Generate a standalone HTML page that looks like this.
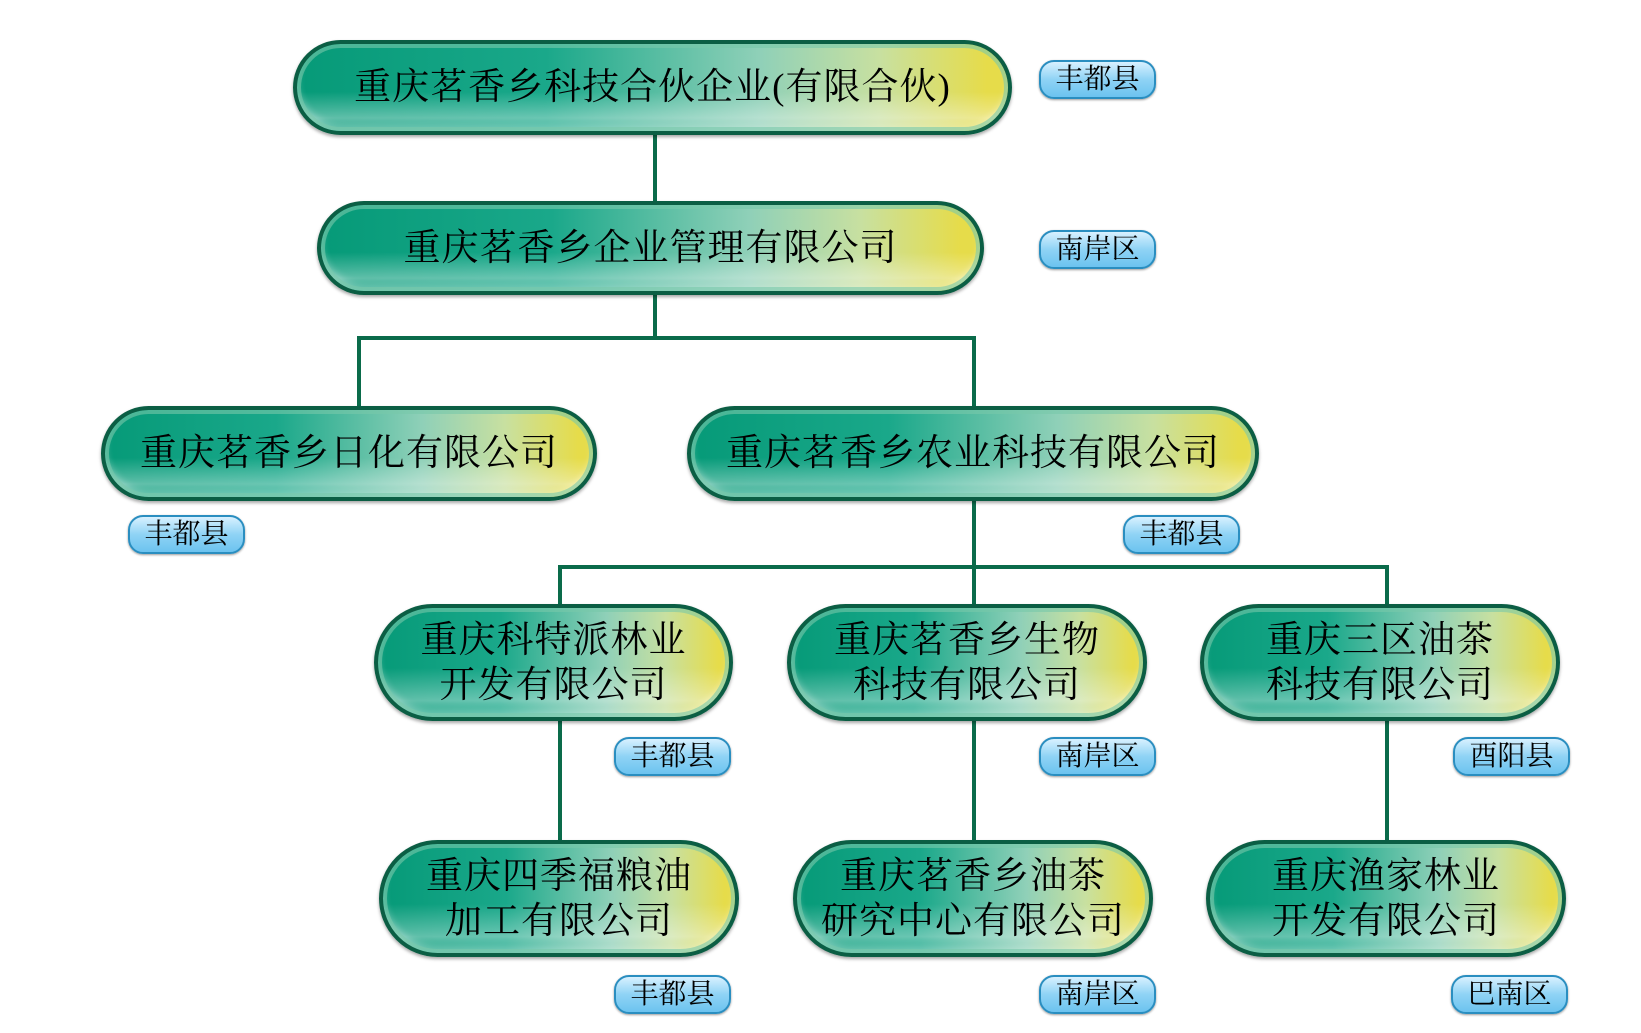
<!DOCTYPE html>
<html><head><meta charset="utf-8"><style>
body{margin:0;width:1641px;height:1033px;background:#fff;position:relative;overflow:hidden;font-family:"Liberation Serif","Noto Serif CJK SC",serif;}
.p{position:absolute;box-sizing:border-box;border-radius:999px;border:4px solid #0b5e44;
background:linear-gradient(180deg,rgba(255,255,255,0) 55%,rgba(255,255,255,.35) 85%,rgba(255,255,255,0) 100%),linear-gradient(90deg,#069a78 0%,#1aa88a 35%,#8fd0b8 65%,#c8e0a0 82%,#e6dc4a 97%);
box-shadow:inset 0 0 0 4px rgba(120,200,170,.6),inset 0 -6px 8px rgba(255,255,255,.4),0 2px 3px rgba(0,0,0,.35);
display:flex;align-items:center;justify-content:center;text-align:center;color:#000;font-size:37px;line-height:45px;letter-spacing:1px}
.t{position:absolute;box-sizing:border-box;width:117px;height:39px;border-radius:15px;border:2px solid #2a8ec0;
background:linear-gradient(180deg,#d8f1ff 0%,#8fd3f5 50%,#6cc3ef 100%);box-shadow:0 1px 2px rgba(0,0,0,.4);
font-size:28px;line-height:35px;text-align:center;color:#000}
.l{position:absolute;background:#0a6b4a}
</style></head><body>
<div class="l" style="left:653px;top:133px;width:4px;height:70px"></div>
<div class="l" style="left:653px;top:293px;width:4px;height:47px"></div>
<div class="l" style="left:357px;top:336px;width:617px;height:4px"></div>
<div class="l" style="left:357px;top:336px;width:4px;height:72px"></div>
<div class="l" style="left:972px;top:336px;width:4px;height:72px"></div>
<div class="l" style="left:972px;top:498px;width:4px;height:110px"></div>
<div class="l" style="left:558px;top:565px;width:831px;height:4px"></div>
<div class="l" style="left:558px;top:565px;width:4px;height:42px"></div>
<div class="l" style="left:1385px;top:565px;width:4px;height:42px"></div>
<div class="l" style="left:558px;top:716px;width:4px;height:126px"></div>
<div class="l" style="left:972px;top:716px;width:4px;height:126px"></div>
<div class="l" style="left:1385px;top:716px;width:4px;height:126px"></div>

<div class="p" style="left:293px;top:40px;width:719px;height:95px">重庆茗香乡科技合伙企业(有限合伙)</div>
<div class="p" style="left:317px;top:201px;width:667px;height:94px">重庆茗香乡企业管理有限公司</div>
<div class="p" style="left:101px;top:406px;width:496px;height:95px">重庆茗香乡日化有限公司</div>
<div class="p" style="left:687px;top:406px;width:572px;height:95px">重庆茗香乡农业科技有限公司</div>
<div class="p" style="left:374px;top:604px;width:359px;height:117px">重庆科特派林业<br>开发有限公司</div>
<div class="p" style="left:787px;top:604px;width:360px;height:117px">重庆茗香乡生物<br>科技有限公司</div>
<div class="p" style="left:1200px;top:604px;width:360px;height:117px">重庆三区油茶<br>科技有限公司</div>
<div class="p" style="left:379px;top:840px;width:360px;height:117px">重庆四季福粮油<br>加工有限公司</div>
<div class="p" style="left:793px;top:840px;width:360px;height:117px">重庆茗香乡油茶<br>研究中心有限公司</div>
<div class="p" style="left:1206px;top:840px;width:360px;height:117px">重庆渔家林业<br>开发有限公司</div>

<div class="t" style="left:1039px;top:60px">丰都县</div>
<div class="t" style="left:1039px;top:230px">南岸区</div>
<div class="t" style="left:128px;top:515px">丰都县</div>
<div class="t" style="left:1123px;top:515px">丰都县</div>
<div class="t" style="left:614px;top:737px">丰都县</div>
<div class="t" style="left:1039px;top:737px">南岸区</div>
<div class="t" style="left:1453px;top:737px">酉阳县</div>
<div class="t" style="left:614px;top:975px">丰都县</div>
<div class="t" style="left:1039px;top:975px">南岸区</div>
<div class="t" style="left:1451px;top:975px">巴南区</div>
</body></html>
